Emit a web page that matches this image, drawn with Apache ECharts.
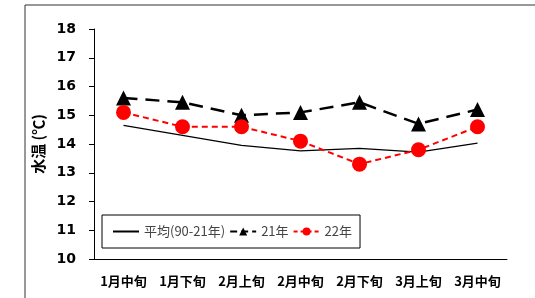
<!DOCTYPE html>
<html>
<head>
<meta charset="utf-8">
<script src="https://cdn.jsdelivr.net/npm/echarts@6/dist/echarts.min.js"></script>
<style>
  html, body { margin: 0; padding: 0; background: #fff; }
  #chart { width: 535px; height: 298px; }
</style>
</head>
<body>
<div id="chart"></div>
<script>
// 旬ごとの水温データ
const categories = ['1月中旬', '1月下旬', '2月上旬', '2月中旬', '2月下旬', '3月上旬', '3月中旬']
const avgValues = [14.65, 14.3, 13.95, 13.76, 13.85, 13.72, 14.03]
const y21Values = [15.6, 15.45, 15.0, 15.1, 15.45, 14.7, 15.2]
const y22Values = [15.1, 14.6, 14.6, 14.1, 13.3, 13.8, 14.6]
const yTicks = [10, 11, 12, 13, 14, 15, 16, 17, 18]

const font = '"Noto Sans CJK JP", sans-serif'
let myChart = echarts.init(document.getElementById('chart'))
myChart.setOption({
  animation: false,
  textStyle: { fontFamily: font },
  // 外枠
  graphic: [{
    type: 'rect',
    shape: { x: 25, y: 5, width: 530, height: 310 },
    style: { fill: 'none', stroke: '#333', lineWidth: 1 },
    silent: true
  }],
  grid: { left: 94, right: 28, top: 29, bottom: 39 },
  legend: {
    left: 102, top: 215, width: 320,
    padding: [10, 8, 10, 10],
    borderColor: '#000', borderWidth: 1,
    itemWidth: 26, itemHeight: 10, itemGap: 4,
    textStyle: { fontFamily: font, fontSize: 13, color: '#444' },
    data: [
      { name: '平均(90-21年)', itemStyle: { opacity: 0 } },
      { name: '21年', lineStyle: { type: [7, 4] } },
      { name: '22年', lineStyle: { type: [4, 3] } }
    ]
  },
  xAxis: {
    type: 'category',
    data: categories,
    axisLine: { lineStyle: { color: '#000', width: 1 } },
    axisTick: { length: 5, lineStyle: { color: '#000' } },
    axisLabel: { interval: 0, fontFamily: font, fontSize: 13, fontWeight: 'bold', color: '#000', margin: 16 }
  },
  yAxis: {
    type: 'value',
    min: yTicks[0], max: yTicks[yTicks.length - 1], interval: 1,
    name: '水温 (℃)',
    nameLocation: 'middle', nameGap: 40, nameRotate: 90,
    nameTextStyle: { fontFamily: font, fontSize: 15, fontWeight: 'bold', color: '#000' },
    axisLine: { show: true, lineStyle: { color: '#000', width: 1 } },
    axisTick: { show: true, length: 5, lineStyle: { color: '#000' } },
    splitLine: { show: false },
    axisLabel: { fontFamily: 'DejaVu Sans, sans-serif', fontSize: 14, fontWeight: 'bold', color: '#000', margin: 18 }
  },
  series: [
    {
      name: '平均(90-21年)',
      type: 'line',
      data: avgValues,
      showSymbol: false,
      symbol: 'none',
      color: '#000',
      lineStyle: { color: '#000', width: 1.3 }
    },
    {
      name: '21年',
      type: 'line',
      data: y21Values,
      symbol: 'triangle', symbolSize: 15,
      color: '#000',
      itemStyle: { color: '#000' },
      lineStyle: { color: '#000', width: 2.5, type: [14, 8] }
    },
    {
      name: '22年',
      type: 'line',
      data: y22Values,
      symbol: 'circle', symbolSize: 15,
      color: '#f00',
      itemStyle: { color: '#f00' },
      lineStyle: { color: '#f00', width: 2, type: [6, 4] },
      z: 3
    }
  ]
})
</script>
</body>
</html>
